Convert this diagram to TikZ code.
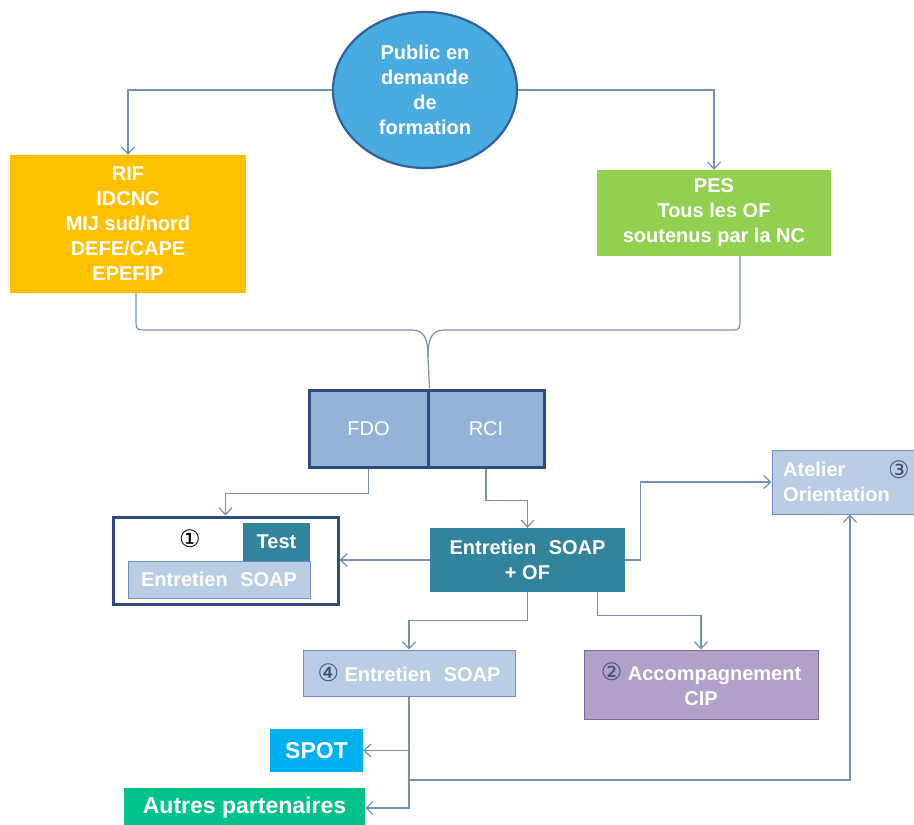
\documentclass[tikz,border=0pt]{standalone}
\usepackage{fontspec}
\setmainfont{Liberation Sans}
\newfontfamily\symf{DejaVu Sans}
\usetikzlibrary{arrows.meta,shapes.geometric}
\definecolor{linec}{HTML}{7590B5}
\definecolor{pubfill}{HTML}{4AABE0}
\definecolor{pubdraw}{HTML}{2E6299}
\definecolor{orangef}{HTML}{FFC000}
\definecolor{greenf}{HTML}{92D050}
\definecolor{fdof}{HTML}{95B3D7}
\definecolor{navy}{HTML}{2F4A80}
\definecolor{tealf}{HTML}{31849B}
\definecolor{lightf}{HTML}{B9CDE5}
\definecolor{lightd}{HTML}{6D8EBF}
\definecolor{purplef}{HTML}{B1A0C7}
\definecolor{purpled}{HTML}{7F6A9D}
\definecolor{spotf}{HTML}{00B0F0}
\definecolor{autresf}{HTML}{00C28A}
\definecolor{numc}{HTML}{3B4F6B}
\begin{document}
\begin{tikzpicture}[x=1pt,y=-1pt,
  conn/.style={draw=linec, line width=1.2pt},
  arr/.style={conn,-{Straight Barb[length=7pt,width=13pt]}},
  bt/.style={text=white, font=\bfseries\fontsize{20}{25}\selectfont, align=center, inner sep=0pt},
  box/.style={bt, rectangle},
  num/.style={font=\symf\fontsize{24}{26}\selectfont, inner sep=0pt}]
\useasboundingbox (0,0) rectangle (914,825);

% nodes
\node[bt, ellipse, fill=pubfill, draw=pubdraw, line width=2.2pt, minimum width=184, minimum height=156] (pub) at (425,90) {Public en\\demande\\de\\formation};
\node[box, fill=orangef, minimum width=236, minimum height=138] (orange) at (128,224) {RIF\\IDCNC\\MIJ sud/nord\\DEFE/CAPE\\EPEFIP};
\node[box, fill=greenf, minimum width=234, minimum height=86] (green) at (714,213) {PES\\Tous les OF\\soutenus par la NC};

\node[box, font=\fontsize{20}{25}\selectfont, fill=fdof, draw=navy, line width=3pt, minimum width=119, minimum height=77] (FDO) at (368.5,428.5) {FDO};
\node[box, font=\fontsize{20}{25}\selectfont, fill=fdof, draw=navy, line width=3pt, minimum width=116, minimum height=77] (RCI) at (486,428.5) {RCI};

\node[draw=navy, fill=white, line width=3pt, minimum width=225, minimum height=87, inner sep=0pt] (box1) at (225.5,560.5) {};
\node[box, fill=tealf, minimum width=67, minimum height=38] (test) at (276.5,542) {Test};
\node[box, fill=lightf, draw=lightd, line width=1pt, minimum width=182, minimum height=37] (soap1) at (219,579.5) {Entretien\hspace{0.35em} SOAP};
\node[num, text=black] (n1) at (190,539) {①};

\node[box, fill=tealf, minimum width=195, minimum height=64] (soap) at (527.5,560) {Entretien\hspace{0.35em} SOAP\\+ OF};

\node[rectangle, fill=lightf, draw=lightd, line width=1pt, minimum width=142, minimum height=64, inner sep=0pt] (atelier) at (843,482) {};
\node[bt, align=left, anchor=west] (ateliertxt) at (783,482) {Atelier\\Orientation};
\node[num, text=numc] (n3) at (899,470) {③};

\node[box, fill=lightf, draw=lightd, line width=1pt, minimum width=212, minimum height=46] (soap4) at (409,673) {{\symf\mdseries\fontsize{24}{26}\selectfont\textcolor{numc}{④}} Entretien\hspace{0.35em} SOAP};

\node[box, fill=purplef, draw=purpled, line width=1pt, minimum width=234, minimum height=69] (acc) at (701,684.5) {{\symf\mdseries\fontsize{24}{26}\selectfont\textcolor{numc}{②}} Accompagnement\\CIP};

\node[box, font=\bfseries\fontsize{23}{26}\selectfont, fill=spotf, minimum width=93, minimum height=43] (spot) at (316.5,750.5) {SPOT};
\node[box, font=\bfseries\fontsize{23}{26}\selectfont, fill=autresf, minimum width=241, minimum height=40] (autres) at (244.5,808) {Autres partenaires};

% connectors
\draw[arr] (pub.west) -| (orange.north);
\draw[arr] (pub.east) -| (green.north);
\coordinate (j) at (428,357);
\draw[conn] ([xshift=8]orange.south) -- (136,318) .. controls (136,330) .. (148,330) -- (412,330) .. controls (425,330) and (428,340) .. (j) -- (FDO.north east);
\draw[conn] ([xshift=26]green.south) -- (740,318) .. controls (740,330) .. (728,330) -- (444,330) .. controls (431,330) and (428,340) .. (j);

\draw[arr] (FDO.south) -- ++(0,25) -| (box1.north);
\draw[arr] (RCI.south) -- ++(0,32) -| (soap.north);
\draw[arr] (soap.west) -- (soap.west -| box1.east);
\draw[arr] (soap.east) -- ++(15,0) |- (atelier.west);
\draw[arr] (soap.south) -- ++(0,28) -| (soap4.north);
\draw[arr] ([xshift=70]soap.south) -- ++(0,23) -| (acc.north);

\draw[arr] (soap4.south) |- (autres.east);
\draw[arr] (soap4.south |- spot.east) -- (spot.east);
\coordinate (k) at (409,780);
\draw[arr] (k) -| ([xshift=7]atelier.south);
\end{tikzpicture}
\end{document}
